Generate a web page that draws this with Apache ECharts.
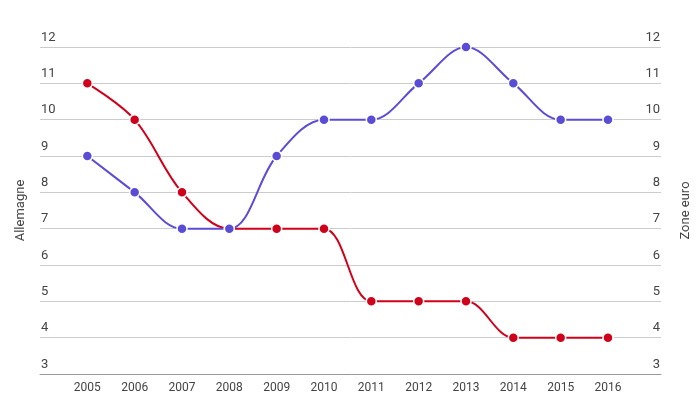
<!DOCTYPE html>
<html>
<head>
<meta charset="utf-8">
<script src="https://cdn.jsdelivr.net/npm/echarts@6/dist/echarts.min.js"></script>
<style>
  html, body { margin: 0; padding: 0; background: #fff; }
  #chart { width: 700px; height: 394px; }
</style>
</head>
<body>
<div id="chart"></div>
<script>
// years on the x axis
var years = [2005, 2006, 2007, 2008, 2009, 2010, 2011, 2012, 2013, 2014, 2015, 2016];
// unemployment values
var allemagne = [11, 10, 8, 7, 7, 7, 5, 5, 5, 4, 4, 4];
var zoneEuro = [9, 8, 7, 7, 9, 10, 10, 11, 12, 11, 10, 10];

var chart = echarts.init(document.getElementById("chart"));

function pairs(vals) {
  return years.map(function (y, i) { return [y, vals[i]]; });
}

var labelStyle = { color: "#444", fontSize: 13, fontFamily: "Roboto" };

var yCommon = {
  type: "value",
  min: 3,
  max: 12,
  interval: 1,
  nameLocation: "middle",
  nameRotate: 90,
  nameTextStyle: { color: "#444", fontSize: 13, fontFamily: "Roboto" },
  axisLine: { show: false },
  axisTick: { show: false }
};

chart.setOption({
  backgroundColor: "#fff",
  animation: false,
  grid: { left: 40, right: 35, top: 47, bottom: 18 },
  xAxis: {
    type: "value",
    min: 2004,
    max: 2017.12,
    interval: 1,
    axisLine: { show: true, lineStyle: { color: "#999" } },
    axisTick: { show: false },
    splitLine: { show: false },
    axisLabel: {
      color: "#444",
      fontSize: 12,
      fontFamily: "Roboto",
      margin: 8,
      showMaxLabel: false,
      formatter: function (v) {
        return years.indexOf(v) >= 0 ? String(v) : "";
      }
    }
  },
  yAxis: [
    Object.assign({}, yCommon, {
      name: "Allemagne",
      nameGap: 13,
      position: "left",
      splitLine: { lineStyle: { color: "#ccc" } },
      axisLabel: Object.assign({ inside: true, margin: 1, verticalAlign: "bottom", padding: [0, 0, 3, 0] }, labelStyle)
    }),
    Object.assign({}, yCommon, {
      name: "Zone euro",
      nameGap: 18,
      position: "right",
      splitLine: { show: false },
      axisLabel: Object.assign({ inside: true, margin: 1, verticalAlign: "bottom", padding: [0, 0, 3, 0] }, labelStyle)
    })
  ],
  series: [
    {
      name: "Allemagne",
      type: "line",
      yAxisIndex: 0,
      smooth: 0.35,
      symbol: "circle",
      symbolSize: 10,
      data: pairs(allemagne),
      lineStyle: { color: "#d0021b", width: 2 },
      itemStyle: { color: "#d0021b", borderColor: "#fff", borderWidth: 1.5 }
    },
    {
      name: "Zone euro",
      type: "line",
      yAxisIndex: 1,
      smooth: 0.35,
      symbol: "circle",
      symbolSize: 10,
      data: pairs(zoneEuro),
      lineStyle: { color: "#5b4cd6", width: 2 },
      itemStyle: { color: "#5b4cd6", borderColor: "#fff", borderWidth: 1.5 }
    }
  ]
});
</script>
</body>
</html>
